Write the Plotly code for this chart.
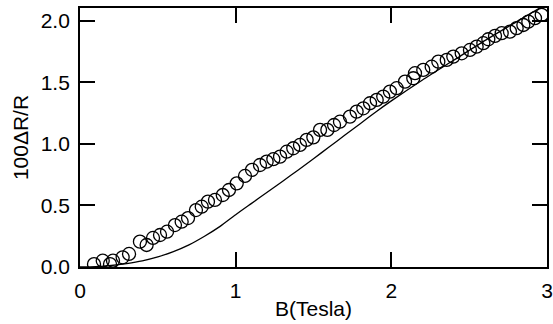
import plotly.graph_objects as go

# measured points (B in Tesla, 100*dR/R)
b_data = [0.09, 0.146, 0.193, 0.212, 0.274, 0.315, 0.385, 0.428, 0.469, 0.514, 0.559, 0.61,
          0.653, 0.694, 0.745, 0.782, 0.822, 0.867, 0.917, 0.957, 1.007, 1.06, 1.105,
          1.156, 1.199, 1.242, 1.285, 1.328, 1.370, 1.413, 1.456, 1.499, 1.542, 1.589,
          1.632, 1.670, 1.734, 1.777, 1.820, 1.863, 1.906, 1.948, 1.991, 2.034, 2.088,
          2.141, 2.152, 2.205, 2.259, 2.302, 2.356, 2.398, 2.452, 2.505, 2.548, 2.591,
          2.623, 2.666, 2.709, 2.762, 2.805, 2.848, 2.880, 2.923, 2.966]
r_data = [0.024, 0.051, 0.024, 0.051, 0.079, 0.106, 0.206, 0.179, 0.236, 0.26, 0.287, 0.341,
          0.368, 0.398, 0.463, 0.49, 0.531, 0.545, 0.585, 0.626, 0.68, 0.74, 0.79,
          0.829, 0.856, 0.876, 0.897, 0.937, 0.965, 0.992, 1.033, 1.054, 1.114, 1.114,
          1.154, 1.181, 1.222, 1.263, 1.29, 1.331, 1.358, 1.385, 1.425, 1.453, 1.507,
          1.534, 1.575, 1.602, 1.628, 1.669, 1.683, 1.710, 1.737, 1.764, 1.791, 1.819,
          1.851, 1.878, 1.900, 1.913, 1.941, 1.967, 1.994, 2.022, 2.049]

# model curve
b_fit = [0.0, 0.1, 0.2, 0.3, 0.4, 0.5, 0.6, 0.7, 0.8, 0.9, 1.0, 1.1, 1.2, 1.3, 1.4, 1.5,
         1.6, 1.7, 1.8, 1.9, 2.0, 2.2, 2.4, 2.6, 2.8, 3.0]
r_fit = [0.0, 0.003, 0.012, 0.028, 0.05, 0.082, 0.125, 0.18, 0.25, 0.33, 0.425, 0.515, 0.605,
         0.695, 0.787, 0.88, 0.975, 1.07, 1.165, 1.26, 1.35, 1.52, 1.68, 1.84, 1.99, 2.14]

x_ticks = [0, 1, 2, 3]
y_ticks = [0.0, 0.5, 1.0, 1.5, 2.0]
y_labels = ["0.0", "0.5", "1.0", "1.5", "2.0"]

fig = go.Figure()
fig.add_trace(go.Scatter(x=b_fit, y=r_fit, mode="lines", line_shape="spline",
                         line=dict(color="black", width=1.3, smoothing=0.6), showlegend=False))
fig.add_trace(go.Scatter(x=b_data, y=r_data, mode="markers",
                         marker=dict(symbol="circle-open", size=13, color="black",
                                     line=dict(width=1.3, color="black")),
                         showlegend=False))

font = dict(family="Liberation Sans, Arial, sans-serif", size=21, color="black")
axis_common = dict(showline=True, linecolor="black", linewidth=1.8, mirror="ticks",
                   ticks="inside", ticklen=15, tickwidth=1.5, tickcolor="black",
                   showgrid=False, zeroline=False, tickfont=font, automargin=False)

fig.update_layout(
    width=553, height=324,
    margin=dict(l=80, r=6, t=8, b=57),
    paper_bgcolor="white", plot_bgcolor="white",
    font=font,
    xaxis=dict(range=[0, 3], tickvals=x_ticks, ticktext=[str(v) for v in x_ticks],
               ticklabelstandoff=4,
               title=dict(text="B(Tesla)", font=font, standoff=0), **axis_common),
    yaxis=dict(range=[0, 2.105], tickvals=y_ticks, ticktext=y_labels,
               ticklabelstandoff=4,
               title=dict(text="100ΔR/R", font=font, standoff=6), **axis_common),
)

fig.write_html("out.html", config={"displayModeBar": False},
               post_script="document.body.style.margin='0';document.body.style.overflow='hidden';")
